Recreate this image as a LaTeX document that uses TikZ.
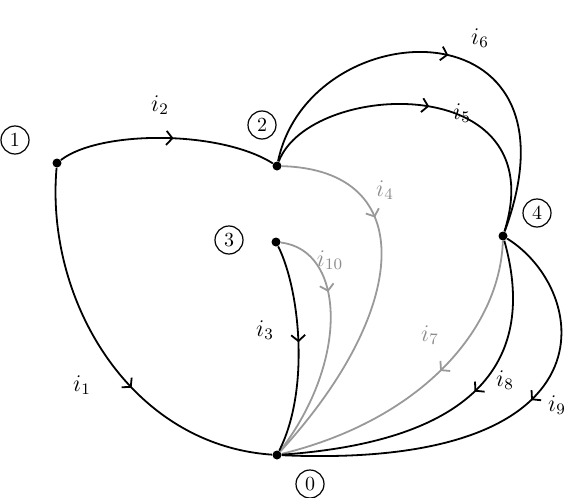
\documentclass[tikz,border=0pt]{standalone}
\usepackage{amsmath}
\usetikzlibrary{arrows.meta,decorations.markings}

\begin{document}
\begin{tikzpicture}[
    x=0.5pt, y=-0.5pt,
    vertex/.style={circle, fill=black, inner sep=0pt, minimum size=4.5pt},
    tag/.style={circle, draw, semithick, inner sep=0pt, minimum size=14pt},
    current/.style={font=\large},
    wire/.style={line width=0.9pt, black},
    faint/.style={line width=0.9pt, black!40},
    flow/.style={postaction={decorate},
        decoration={markings, mark=at position #1 with {\arrow{Straight Barb[length=3pt,width=7pt]}}}}
]
\useasboundingbox (0,0) rectangle (584,498);

% junctions
\node[vertex] (n1) at (57,163) {};
\node[vertex] (n2) at (277,166) {};
\node[vertex] (n3) at (276,242) {};
\node[vertex] (n4) at (503,236) {};
\node[vertex] (n0) at (277,455) {};

% junction numbers
\node[tag] (t1) at (15,140) {1};
\node[tag] (t2) at (262,125) {2};
\node[tag] (t3) at (229,240) {3};
\node[tag] (t4) at (537,213) {4};
\node[tag] (t0) at (310,484) {0};

% branches
\draw[wire, flow=0.53] (n1) .. controls (100,130) and (220,130) .. (n2);
\draw[wire, flow=0.6] (n1) .. controls (45,300) and (130,445) .. (n0);
\draw[wire, flow=0.51] (n2) .. controls (310,10) and (590,0) .. (n4);
\draw[wire, flow=0.5] (n2) .. controls (310,80) and (555,70) .. (n4);
\draw[faint, flow=0.3] (n2) .. controls (420,170) and (410,310) .. (n0);
\draw[faint, flow=0.3] (n3) .. controls (345,250) and (350,360) .. (n0);
\draw[wire, flow=0.47] (n3) .. controls (300,290) and (310,390) .. (n0);
\draw[faint, flow=0.45] (n4) .. controls (500,330) and (420,420) .. (n0);
\draw[wire, flow=0.44] (n4) .. controls (535,350) and (490,440) .. (n0);
\draw[wire, flow=0.42] (n4) .. controls (590,290) and (620,470) .. (n0);

% currents
\node[current] (c1) at (82,385) {$i_1$};
\node[current] (c2) at (160,105) {$i_2$};
\node[current] (c3) at (265,330) {$i_3$};
\node[current, text=black!45] (c4) at (385,190) {$i_4$};
\node[current] (c5) at (462,113) {$i_5$};
\node[current] (c6) at (480,38) {$i_6$};
\node[current, text=black!45] (c7) at (430,335) {$i_7$};
\node[current] (c8) at (505,380) {$i_8$};
\node[current] (c9) at (557,405) {$i_9$};
\node[current, text=black!45] (c10) at (330,260) {$i_{10}$};

\end{tikzpicture}
\end{document}
